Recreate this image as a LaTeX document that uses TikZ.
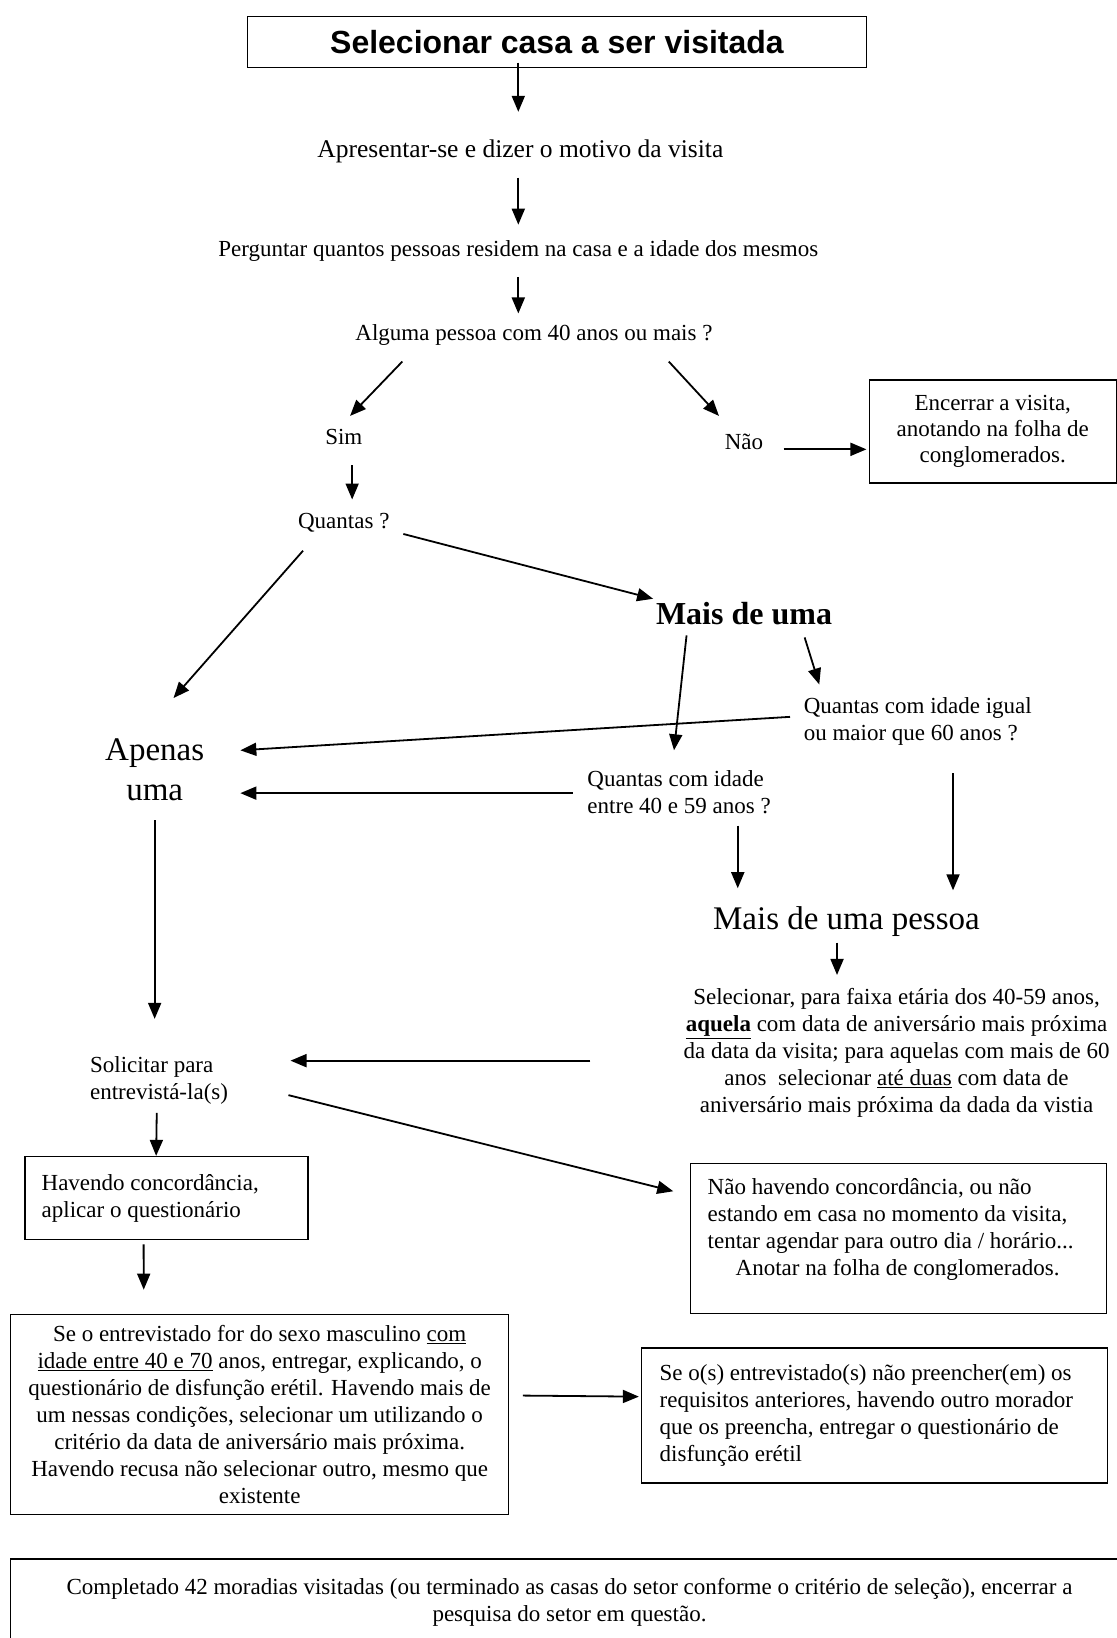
\documentclass[tikz,border=0pt]{standalone}
\usepackage{fontspec}
\setmainfont{Liberation Serif}
\newfontfamily\titlefont{Liberation Sans}
\usepackage{tikz}
\usetikzlibrary{arrows.meta,calc}

\begin{document}
\begin{tikzpicture}[x=1.045pt, y=-1.045pt,
    txt/.style={font=\fontsize{23}{27}\selectfont, inner sep=0pt},
    bigtxt/.style={font=\fontsize{33}{40}\selectfont, inner sep=0pt},
    boxed/.style={draw, line width=1.4pt, inner sep=0pt, font=\fontsize{23}{27}\selectfont},
    arr/.style={line width=1.8pt, -{Triangle[length=16pt,width=13pt]}}]
        \path[use as bounding box, fill=white] (0,0) rectangle (1068.9,1567.5);

        \node[boxed, minimum width=619pt, minimum height=51pt, font={\titlefont\bfseries\fontsize{32}{36}\selectfont}] (title) at (533,40) {Selecionar casa a ser visitada};
        \node[txt, font=\fontsize{25.5}{30}\selectfont] (apres) at (498,145) {Apresentar-se e dizer o motivo da visita};
        \node[txt] (perg) at (496,240) {Perguntar quantos pessoas residem na casa e a idade dos mesmos};
        \node[txt] (alg) at (511,321) {Alguma pessoa com 40 anos ou mais ?};
        \node[txt] (sim) at (329,418) {Sim};
        \node[txt] (nao) at (712,423) {Não};
        \node[boxed, minimum width=247pt, minimum height=103pt, align=center, font=\fontsize{23}{26}\selectfont] (enc) at (950,413) {Encerrar a visita,\\anotando na folha de\\conglomerados.};
        \node[txt] (quant) at (329,500) {Quantas ?};
        \node[bigtxt, font={\bfseries\fontsize{32}{38}\selectfont}] (maisuma) at (712,587) {Mais de uma};
        \node[txt, anchor=west, align=left] (q60) at (769,690) {Quantas com idade igual\\ou maior que 60 anos ?};
        \node[bigtxt, align=center] (apenas) at (148,737) {Apenas\\uma};
        \node[txt, anchor=west, align=left] (q4059) at (562,758) {Quantas com idade\\entre 40 e 59 anos ?};
        \node[bigtxt] (maispes) at (810,882) {Mais de uma pessoa};
        \node[txt, align=center] (selpar) at (858,1008) {Selecionar, para faixa etária dos 40-59 anos,\\\underline{\textbf{aquela}} com data de aniversário mais próxima\\da data da visita; para aquelas com mais de 60\\anos\ \ selecionar \underline{até duas} com data de\\aniversário mais próxima da dada da vistia};
        \node[txt, anchor=west, align=left] (solic) at (86,1034) {Solicitar para\\entrevistá-la(s)};
        \node[boxed, minimum width=283pt, minimum height=83pt, text width=250pt, align=flush left] (hav) at (159.5,1146.5) {Havendo concordância,\\aplicar o questionário};
        \node[boxed, minimum width=416pt, minimum height=150pt, text width=382pt, align=flush left] (naoh) at (860,1185) {Não havendo concordância, ou não\\estando em casa no momento da visita,\\tentar agendar para outro dia / horário...\\\hspace*{28pt}Anotar na folha de conglomerados.\\[-5pt]\mbox{}};
        \node[boxed, minimum width=498pt, minimum height=200pt, align=center] (big) at (248.5,1353.5) {Se o entrevistado for do sexo masculino \underline{com}\\\underline{idade entre 40 e 70} anos, entregar, explicando, o\\questionário de disfunção erétil. Havendo mais de\\um nessas condições, selecionar um utilizando o\\critério da data de aniversário mais próxima.\\Havendo recusa não selecionar outro, mesmo que\\existente};
        \node[boxed, minimum width=466pt, minimum height=135pt, text width=430pt, align=flush left] (seo) at (837,1354.5) {Se o(s) entrevistado(s) não preencher(em) os\\requisitos anteriores, havendo outro morador\\que os preencha, entregar o questionário de\\disfunção erétil};
        \node[boxed, minimum width=1118pt, minimum height=87pt, align=center] (fim) at (545,1533.5) {Completado 42 moradias visitadas (ou terminado as casas do setor conforme o critério de seleção), encerrar a\\pesquisa do setor em questão.};

        \draw[arr] ($(title)+(-37,20)$) -- ($(apres)+(-2,-38)$);
        \draw[arr] ($(apres)+(-2,25)$) -- ($(perg)+(0,-25)$);
        \draw[arr] ($(perg)+(0,25)$) -- ($(alg)+(-15,-21)$);
        \draw[arr] ($(alg)+(-126,25)$) -- ($(sim)+(6,-20)$);
        \draw[arr] ($(alg)+(129,25)$) -- ($(nao)+(-24,-25)$);
        \draw[arr] ($(nao)+(38,7)$) -- ($(enc.west)+(-2,17)$);
        \draw[arr] ($(sim)+(8,27)$) -- ($(quant)+(8,-22)$);
        \draw[arr] ($(quant)+(57,11)$) -- ($(maisuma)+(-87,-14)$);
        \draw[arr] ($(quant)+(-39,27)$) -- ($(apenas)+(18,-69)$);
        \draw[arr] ($(maisuma)+(-55,21)$) -- ($(q4059.west)+(83,-40)$);
        \draw[arr] ($(maisuma)+(58,23)$) -- ($(q60.west)+(15,-35)$);
        \draw[arr] ($(q60.west)+(-13,-4)$) -- ($(apenas)+(82,-19)$);
        \draw[arr] ($(q4059.west)+(-14,1)$) -- ($(apenas)+(82,22)$);
        \draw[arr] ($(q4059.west)+(144,32)$) -- ($(maispes)+(-104,-32)$);
        \draw[arr] ($(q60.west)+(143,50)$) -- ($(maispes)+(102,-30)$);
        \draw[arr] ($(maispes)+(-9,20)$) -- ($(selpar)+(-57,-75)$);
        \draw[arr] ($(selpar)+(-293,7)$) -- ($(solic.west)+(192,-19)$);
        \draw[arr] ($(apenas)+(0,48)$) -- ($(solic.west)+(62,-59)$);
        \draw[arr] ($(solic.west)+(190,14)$) -- ($(naoh.west)+(-16,-45)$);
        \draw[arr] ($(solic.west)+(64,31)$) -- ($(hav.north west)+(126,0)$);
        \draw[arr] ($(hav.south west)+(114,4)$) -- ($(big.north west)+(128,-23)$);
        \draw[arr] ($(big.east)+(13,-18)$) -- ($(seo.west)+(-2,-18)$);
    \end{tikzpicture}
\end{document}
